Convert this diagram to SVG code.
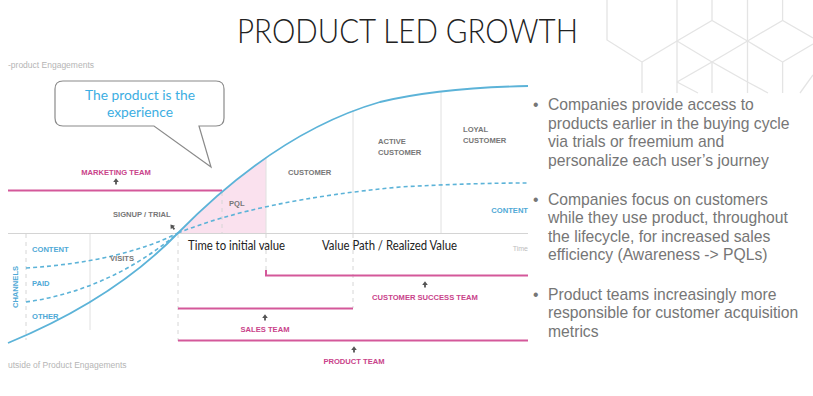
<svg xmlns="http://www.w3.org/2000/svg" xmlns:xlink="http://www.w3.org/1999/xlink" width="813" height="396" viewBox="0 0 813 396">
<style>
.hex{stroke:#e4e4e4;stroke-width:1.3;fill:none}
.grid{stroke:#e0e0e0;stroke-width:1;fill:none}
.gdash{stroke:#d6d6d6;stroke-width:1;fill:none;stroke-dasharray:4 4}
.pink{stroke:#d4589a;stroke-width:2;fill:none}
.curve{stroke:#5cb3d8;stroke-width:1.8;fill:none}
.dcurve{stroke:#5cb3d8;stroke-width:1.6;fill:none;stroke-dasharray:4 3}
.lab{font-family:"Liberation Sans",Arial,sans-serif;font-weight:bold;font-size:7.6px}
.gray{fill:#777}
.blue{fill:#4fa9d6}
.pk{fill:#c9438a}
.faint{font-family:"Liberation Sans",Arial,sans-serif;font-size:8.5px;fill:#b5b5b5}
.bul{font-family:"Liberation Sans",Arial,sans-serif;font-size:15.7px;fill:#767676}
.cal{font-family:Lato,"Open Sans",sans-serif;font-size:12.5px;fill:#222}
</style>
<defs>
<path id="up" d="M0,-3.2 L2.8,0.6 L0.9,0.6 L0.9,3 L-0.9,3 L-0.9,0.6 L-2.8,0.6 Z" fill="#555"/>
<clipPath id="pqlclip"><rect x="178" y="0" width="88" height="233"/></clipPath>
</defs>
<rect width="813" height="396" fill="#fff"/>

<g id="hexpattern" class="hex">
<path d="M607,0 V40 L642,62 V93"/>
<path d="M642,62 L677,41"/>
<path d="M677,0 V93"/>
<path d="M712,0 V20.5"/>
<path d="M677,41 L712,20.5 L747.5,41"/>
<path d="M747.5,0 V93"/>
<path d="M747.5,41 L782.6,20.5 L813,38"/>
<path d="M782.6,0 V20.5"/>
<path d="M747.5,41 L782.6,62 V93"/>
<path d="M782.6,62 L813,44"/>
<path d="M677,41 L712,62 V93"/>
<path d="M712,62 L747.5,41"/>
<path d="M677,82 L712,62 L747.5,82"/>
<path d="M747.5,82 L768,93"/>
<path d="M677,82 L698,93"/>
<path d="M813,75 L800,93"/>
</g>

<g id="title">
<text x="237" y="43" font-family="Lato,'Open Sans',sans-serif" font-weight="300" font-size="34" fill="#222" textLength="341" lengthAdjust="spacingAndGlyphs">PRODUCT LED GROWTH</text>
</g>

<g id="zone-labels">
<text class="faint" x="8" y="68">-product Engagements</text>
<text class="faint" x="8" y="368">utside of Product Engagements</text>
</g>

<g id="pql-area">
<path d="M178,233 C230,180 300,125 380,102 L380,233 Z" fill="#fae1ee" clip-path="url(#pqlclip)"/>
</g>

<g id="gridlines">
<line class="grid" x1="8" y1="233.5" x2="528" y2="233.5" style="stroke:#d4d4d4"/>
<line class="grid" x1="266" y1="157" x2="266" y2="233"/>
<line class="grid" x1="353" y1="110" x2="353" y2="233"/>
<line class="grid" x1="441" y1="92" x2="441" y2="233"/>
<line class="gdash" x1="222" y1="192" x2="222" y2="233"/>
<line class="gdash" x1="26" y1="234" x2="26" y2="340"/>
<line class="grid" x1="90" y1="234" x2="90" y2="330"/>
<line class="gdash" x1="178" y1="234" x2="178" y2="341"/>
<line class="gdash" x1="266" y1="234" x2="266" y2="275"/>
<line class="gdash" x1="353" y1="234" x2="353" y2="308"/>
</g>

<g id="team-lines">
<line class="pink" x1="8" y1="190.5" x2="222" y2="190.5"/>
<path class="pink" d="M266,270 V275.5 H528"/>
<line class="pink" x1="178" y1="308.5" x2="353" y2="308.5"/>
<line class="pink" x1="178" y1="340.5" x2="528" y2="340.5"/>
</g>

<g id="connectors">
<path class="curve" d="M8,343 C100,305 150,262 178,233 C230,180 300,125 380,102 C430,90 480,87 528,86"/>
<path class="dcurve" d="M26,268 Q120,262 178,233"/>
<path class="dcurve" d="M26,302 Q110,290 178,233"/>
<path class="dcurve" d="M178,233 Q260,200 400,187 Q470,183 528,183"/>
</g>

<g id="callout">
<path d="M63,81 H216 Q224,81 224,89 V118 Q224,126 216,126 H199 L211,167 L154,126 H63 Q55,126 55,118 V89 Q55,81 63,81 Z" fill="#fff" stroke="#8a8a8a" stroke-width="1.2"/>
<text x="85" y="100" font-family="Lato,'Open Sans',sans-serif" font-size="14" fill="#3caee2" textLength="110" lengthAdjust="spacingAndGlyphs">The product is the</text>
<text x="107" y="116.5" font-family="Lato,'Open Sans',sans-serif" font-size="14" fill="#3caee2" textLength="66" lengthAdjust="spacingAndGlyphs">experience</text>
</g>

<g id="stage-labels">
<text class="lab gray" x="113" y="217">SIGNUP / TRIAL</text>
<text class="lab gray" x="229" y="206">PQL</text>
<text class="lab gray" x="288" y="175">CUSTOMER</text>
<text class="lab gray" x="378" y="144">ACTIVE</text>
<text class="lab gray" x="378" y="154.5">CUSTOMER</text>
<text class="lab gray" x="463" y="132">LOYAL</text>
<text class="lab gray" x="463" y="143">CUSTOMER</text>
<text class="lab gray" x="110" y="261">VISITS</text>
<text class="lab blue" x="528" y="212.5" text-anchor="end">CONTENT</text>
<text x="528" y="250.5" text-anchor="end" font-family="'Liberation Sans',Arial,sans-serif" font-size="7" fill="#bdbdbd">Time</text>
</g>

<g id="channels">
<text class="lab blue" x="32" y="252">CONTENT</text>
<text class="lab blue" x="32" y="286">PAID</text>
<text class="lab blue" x="32" y="319">OTHER</text>
<text class="lab blue" transform="translate(17.5,287) rotate(-90)" text-anchor="middle">CHANNELS</text>
</g>

<g id="value-labels">
<text class="cal" x="188" y="250" textLength="97" lengthAdjust="spacingAndGlyphs">Time to initial value</text>
<text class="cal" x="322" y="250" textLength="135" lengthAdjust="spacingAndGlyphs">Value Path / Realized Value</text>
</g>

<g id="teams">
<use xlink:href="#up" x="116" y="181.5"/>
<text class="lab pk" x="116" y="174.5" text-anchor="middle">MARKETING TEAM</text>
<use xlink:href="#up" x="425" y="284.5"/>
<text class="lab pk" x="425" y="300" text-anchor="middle">CUSTOMER SUCCESS TEAM</text>
<use xlink:href="#up" x="265" y="317.5"/>
<text class="lab pk" x="265" y="332" text-anchor="middle">SALES TEAM</text>
<use xlink:href="#up" x="354" y="349.5"/>
<text class="lab pk" x="354" y="364" text-anchor="middle">PRODUCT TEAM</text>
<use xlink:href="#up" transform="translate(172.5,227) rotate(-40)"/>
</g>

<g id="bullets" class="bul">
<text x="533" y="110">•</text>
<text x="548" y="110">Companies provide access to</text>
<text x="548" y="128.5">products earlier in the buying cycle</text>
<text x="548" y="147">via trials or freemium and</text>
<text x="548" y="165.5">personalize each user’s journey</text>
<text x="533" y="204.5">•</text>
<text x="548" y="204.5">Companies focus on customers</text>
<text x="548" y="223">while they use product, throughout</text>
<text x="548" y="241.5">the lifecycle, for increased sales</text>
<text x="548" y="260">efficiency (Awareness -&gt; PQLs)</text>
<text x="533" y="299.5">•</text>
<text x="548" y="299.5">Product teams increasingly more</text>
<text x="548" y="318">responsible for customer acquisition</text>
<text x="548" y="336.5">metrics</text>
</g>
</svg>
